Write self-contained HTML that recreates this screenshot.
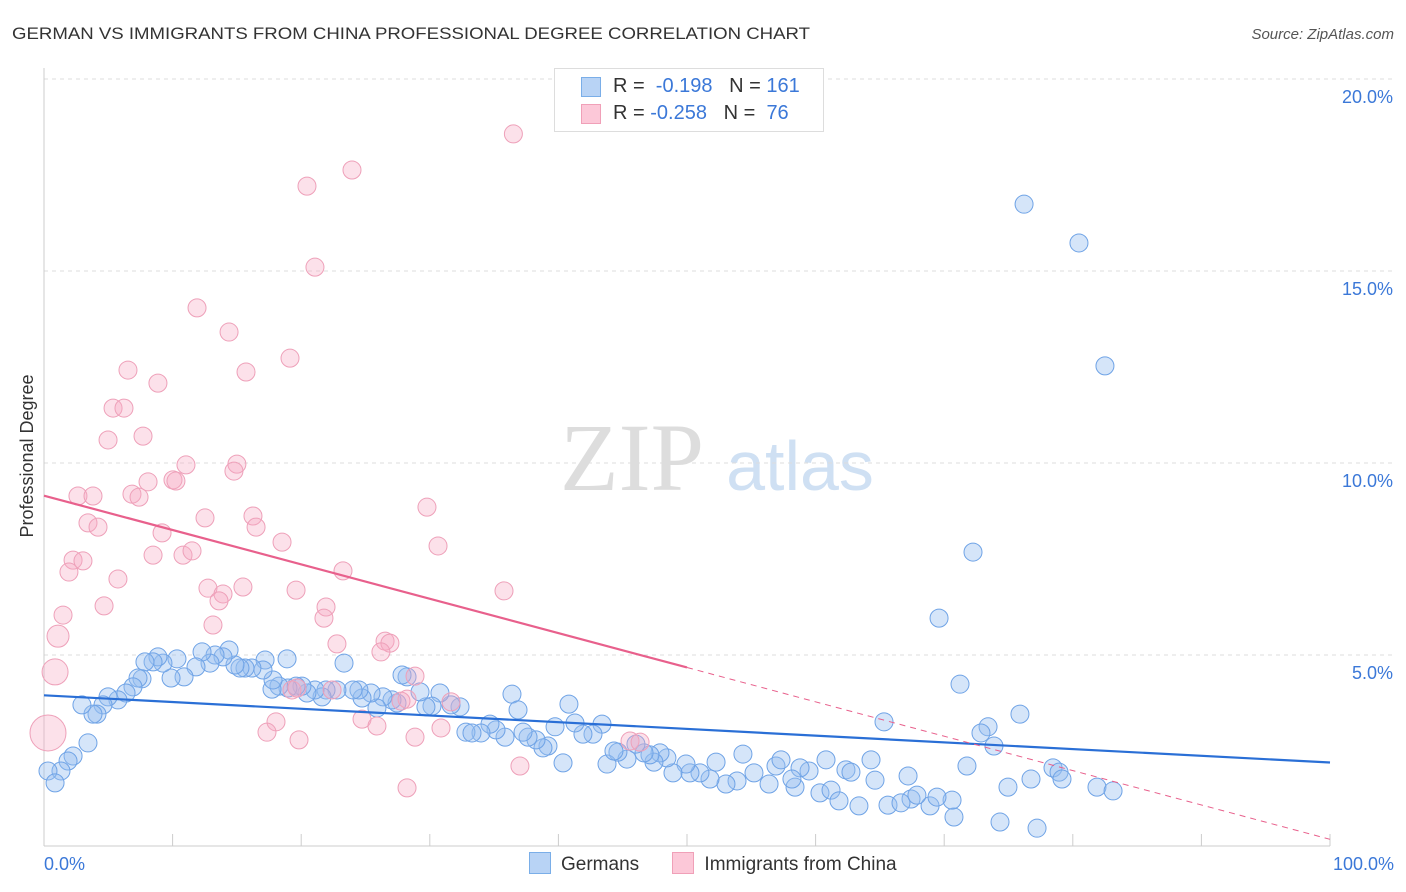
<!DOCTYPE html>
<html><head><meta charset="utf-8"><style>
body{margin:0;background:#fff;font-family:"Liberation Sans",sans-serif;}
svg{display:block}
</style></head><body>
<svg id="c" width="1406" height="892" xmlns="http://www.w3.org/2000/svg">
<text x="12" y="39" font-size="17" fill="#333" textLength="798" lengthAdjust="spacingAndGlyphs">GERMAN VS IMMIGRANTS FROM CHINA PROFESSIONAL DEGREE CORRELATION CHART</text>
<text x="1394" y="39" font-size="15" fill="#555" font-style="italic" text-anchor="end">Source: ZipAtlas.com</text>
<text x="632" y="490" font-size="96" fill="#ddd" font-family="Liberation Serif,serif" text-anchor="middle">ZIP</text>
<text x="800" y="490" font-size="70" fill="#cfe0f3" text-anchor="middle">atlas</text>
<text x="33" y="456" font-size="18" fill="#333" text-anchor="middle" transform="rotate(-90 33 456)">Professional Degree</text>
<g id="grid"></g><g id="pts"></g><g id="trend"></g>
</svg>
<script>
const pinkX=[36.5,23.95,20.45,21.07,11.9,14.39,19.13,6.53,15.71,8.86,5.37,6.22,4.98,7.7,11.04,15.0,14.77,2.64,3.81,6.84,7.39,8.09,10.03,10.26,16.25,12.52,16.49,29.78,3.42,4.2,9.18,18.51,30.64,2.26,3.03,8.48,10.81,11.51,1.94,5.75,23.25,12.75,15.47,13.92,13.61,19.6,35.77,4.67,1.48,21.93,21.77,13.14,1.09,22.78,26.52,26.9,26.2,0.86,28.85,19.28,19.67,22.4,28.23,31.65,27.76,18.04,24.73,17.34,25.89,30.87,19.83,28.85,0.31,37.01,28.23,45.57,46.35];
const pinkY=[18.57,17.63,17.21,15.10,14.04,13.41,12.73,12.42,12.37,12.08,11.43,11.43,10.6,10.7,9.95,9.97,9.79,9.14,9.14,9.19,9.11,9.51,9.56,9.53,8.62,8.57,8.33,8.85,8.44,8.33,8.18,7.94,7.84,7.47,7.45,7.6,7.6,7.71,7.16,6.98,7.19,6.74,6.77,6.59,6.41,6.69,6.67,6.28,6.04,6.25,5.96,5.78,5.49,5.29,5.36,5.31,5.08,4.56,4.45,4.09,4.14,4.09,3.85,3.78,3.8,3.26,3.33,2.99,3.15,3.1,2.79,2.86,2.97,2.11,1.54,2.76,2.73];
const blueX=[76.21,80.48,82.5,72.24,69.6,71.23,75.89,73.41,72.86,65.32,73.87,78.46,78.93,79.16,71.77,76.75,74.96,81.88,83.13,74.34,77.22,70.76,65.63,63.37,68.9,67.42,66.64,70.61,69.44,67.88,67.19,64.62,64.31,62.36,62.75,60.81,59.49,58.79,60.34,61.2,61.82,58.4,58.16,56.92,57.31,56.38,55.21,54.35,53.89,53.03,52.26,51.79,51.01,50.23,49.92,48.91,48.44,47.9,47.43,47.12,46.66,46.03,45.33,44.63,43.78,44.32,43.39,42.69,41.91,41.29,40.82,40.36,39.74,39.19,38.8,38.26,37.64,37.25,36.39,36.86,35.85,35.15,34.68,33.98,32.81,33.28,32.35,31.65,30.79,30.17,29.7,29.24,28.23,27.84,27.45,27.06,26.36,25.89,25.43,24.73,24.49,24.03,23.33,22.78,21.93,21.62,21.07,20.45,20.06,19.6,18.97,18.27,17.73,17.81,18.9,17.19,17.03,16.17,15.63,15.24,14.85,14.39,13.92,13.3,12.91,12.29,11.82,10.89,10.34,9.88,9.25,8.86,8.48,7.85,7.62,7.31,6.92,6.38,5.75,4.98,4.59,4.12,3.81,2.95,3.42,2.26,1.87,1.32,0.31,0.86];
const blueY=[16.74,15.73,12.53,7.68,5.96,4.24,3.46,3.13,2.97,3.26,2.63,2.06,1.95,1.77,2.11,1.77,1.56,1.56,1.46,0.65,0.49,0.78,1.09,1.07,1.07,1.25,1.15,1.22,1.3,1.35,1.85,1.74,2.27,2.01,1.95,2.27,1.98,2.06,1.41,1.48,1.2,1.56,1.77,2.11,2.27,1.64,1.93,2.42,1.72,1.64,2.21,1.77,1.93,1.93,2.16,1.93,2.32,2.45,2.21,2.4,2.45,2.68,2.29,2.47,2.16,2.5,3.2,2.94,2.94,3.23,3.72,2.19,3.13,2.63,2.58,2.79,2.86,2.99,3.98,3.57,2.86,3.05,3.2,2.97,2.99,2.97,3.65,3.7,4.01,3.67,3.65,4.04,4.43,4.48,3.75,3.83,3.91,3.62,4.01,3.88,4.09,4.09,4.79,4.09,4.09,3.91,4.09,4.01,4.19,4.19,4.14,4.19,4.11,4.35,4.9,4.87,4.61,4.66,4.66,4.66,4.74,5.13,4.95,5.0,4.79,5.08,4.69,4.43,4.9,4.4,4.79,4.95,4.82,4.82,4.38,4.4,4.17,4.01,3.83,3.91,3.7,3.46,3.46,3.7,2.71,2.37,2.24,1.98,1.98,1.67];
const yTicks=[5,10,15,20];
const yTickLabels=["5.0%","10.0%","15.0%","20.0%"];
const blueTrend=[3.95,2.2];
const pinkTrend=[9.15,0.2];
const NS="http://www.w3.org/2000/svg";
const X=v=>44+v*12.86, Y=v=>847-v*38.4;
function mk(t,a,p){const e=document.createElementNS(NS,t);for(const k in a)e.setAttribute(k,a[k]);p.appendChild(e);return e;}
const g=document.getElementById('grid');
yTicks.forEach((t,i)=>{
 const l=mk('line',{x1:44,x2:1394,y1:Y(t),y2:Y(t),stroke:'#ddd','stroke-dasharray':'4 4'},g);
 
 
 const tx=mk('text',{x:1393,y:Y(t)+24,'font-size':18,fill:'#3b78d8','text-anchor':'end'},g);
 tx.textContent=yTickLabels[i];
 
 
});
const ya=mk('line',{x1:44,x2:44,y1:68,y2:846,stroke:'#ccc'},g);


const xa=mk('line',{x1:44,x2:1330,y1:846,y2:846,stroke:'#ccc'},g);


for(let i=0;i<=10;i++){const t=mk('line',{x1:X(i*10),x2:X(i*10),y1:834,y2:846,stroke:'#ccc'},g);
 
 }
[["0.0%",44,'start'],["100.0%",1394,'end']].forEach(a=>{const t=mk('text',{x:a[1],y:870,'font-size':18,fill:'#3b78d8','text-anchor':a[2]},g);t.textContent=a[0];
 
 });
const p=document.getElementById('pts');
blueX.forEach((v,i)=>{const c=mk('circle',{cx:X(v),cy:Y(blueY[i]),r:9,fill:'rgba(150,190,240,0.4)',stroke:'#6fa3e6','stroke-width':1},p);
 
 });
pinkX.forEach((v,i)=>{let r=9;if(v<1.2&&pinkY[i]<5.6)r=pinkY[i]<3.5?18:(pinkY[i]<5?13:11);
 const c=mk('circle',{cx:X(v),cy:Y(pinkY[i]),r:r,fill:'rgba(245,170,195,0.35)',stroke:'#eea0b9','stroke-width':1},p);
 
 });
const tg=document.getElementById('trend');
const bt=mk('line',{x1:X(0),y1:Y(blueTrend[0]),x2:X(100),y2:Y(blueTrend[1]),stroke:'#2a6fd6','stroke-width':2.2},tg);


const pm=pinkTrend[0]+(pinkTrend[1]-pinkTrend[0])*0.5;
const pt=mk('line',{x1:X(0),y1:Y(pinkTrend[0]),x2:X(50),y2:Y(pm),stroke:'#e8608c','stroke-width':2.2},tg);


const pd=mk('line',{x1:X(50),y1:Y(pm),x2:X(100),y2:Y(pinkTrend[1]),stroke:'#e8608c','stroke-width':1,'stroke-dasharray':'6 5'},tg);


</script>
<div style="position:absolute;left:554px;top:68px;width:268px;height:62px;border:1px solid #ddd;background:#fff;font-size:20px;color:#333">
 <div style="position:absolute;left:26px;top:8px;width:18px;height:18px;background:#b8d3f5;border:1px solid #7aaee8"></div>
 <div style="position:absolute;left:58px;top:6px;white-space:pre">R =  <span style="color:#3b78d8">-0.198</span>   N = <span style="color:#3b78d8">161</span></div>
 <div style="position:absolute;left:26px;top:35px;width:18px;height:18px;background:#fcc8d8;border:1px solid #f0a0b8"></div>
 <div style="position:absolute;left:58px;top:33px;white-space:pre">R = <span style="color:#3b78d8">-0.258</span>   N =  <span style="color:#3b78d8">76</span></div>
</div>
<div style="position:absolute;left:529px;top:852px;font-size:19px;color:#333;white-space:nowrap">
 <span><span style="display:inline-block;width:20px;height:20px;background:#b8d3f5;border:1px solid #7aaee8;vertical-align:-4px;margin-right:10px"></span>Germans</span>
 <span style="margin-left:28px"><span style="display:inline-block;width:20px;height:20px;background:#fcc8d8;border:1px solid #f0a0b8;vertical-align:-4px;margin-right:10px"></span>Immigrants from China</span>
</div>
</body></html>
